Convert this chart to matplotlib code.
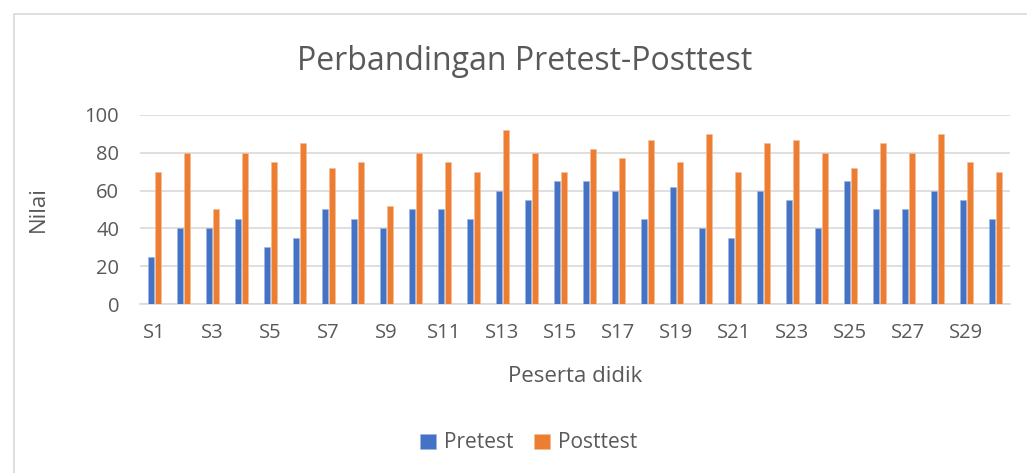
import numpy as np
import matplotlib.pyplot as plt
from matplotlib.patches import Rectangle

students = ["S" + str(i) for i in range(1, 31)]
pretest = [25, 40, 40, 45, 30, 35, 50, 45, 40, 50,
           50, 45, 60, 55, 65, 65, 60, 45, 62, 40,
           35, 60, 55, 40, 65, 50, 50, 60, 55, 45]
posttest = [70, 80, 50, 80, 75, 85, 72, 75, 52, 80,
            75, 70, 92, 80, 70, 82, 77, 87, 75, 90,
            70, 85, 87, 80, 72, 85, 80, 90, 75, 70]
y_ticks = [0, 20, 40, 60, 80, 100]

blue = "#4472C4"
orange = "#ED7D31"
text_col = "#595959"
plt.rcParams["font.family"] = ["Open Sans", "DejaVu Sans"]

fig = plt.figure(figsize=(10.27, 4.73), dpi=100)
fig.patches.append(Rectangle((14 / 1027, -0.1), 1.2, 1 - 14 / 473 + 0.1,
                             transform=fig.transFigure, fill=False,
                             edgecolor="#D9D9D9", linewidth=1.2))

ax = fig.add_axes([140 / 1027, 1 - 304 / 473, 870 / 1027, 189 / 473])
x = np.arange(len(students))
w = 0.19
ax.bar(x - 0.115, pretest, w, color=blue, edgecolor="#9DB5E0", linewidth=0.4,
       label="Pretest", zorder=3)
ax.bar(x + 0.115, posttest, w, color=orange, edgecolor="#F6BE98", linewidth=0.4,
       label="Posttest", zorder=3)

ax.set_xlim(-0.5, len(students) - 0.5)
ax.set_ylim(0, 100)
ax.set_yticks(y_ticks)
ax.set_xticks(x[::2])
ax.set_xticklabels(students[::2])
ax.tick_params(axis="both", length=0, labelsize=14.5, colors=text_col)
ax.tick_params(axis="x", pad=14)
ax.tick_params(axis="y", pad=15)
ax.grid(axis="y", color="#D9D9D9", linewidth=1.2, zorder=0)
for s in ["top", "right", "left"]:
    ax.spines[s].set_visible(False)
ax.spines["bottom"].set_color("#D9D9D9")
ax.spines["bottom"].set_linewidth(1.2)

ax.set_xlabel("Peserta didik", fontsize=16, color=text_col, labelpad=16)
ax.set_ylabel("Nilai", fontsize=16, color=text_col, labelpad=26)
fig.text(0.511, 1 - 62 / 473, "Perbandingan Pretest-Posttest", ha="center",
         va="center", fontsize=23, color=text_col)

fig.legend(loc="center", bbox_to_anchor=(0.515, 1 - 443 / 473), ncol=2,
           frameon=False, fontsize=15, labelcolor=text_col, handlelength=0.75,
           handleheight=0.75, handletextpad=0.4, columnspacing=1.0)

plt.savefig("out.png", dpi=100)
